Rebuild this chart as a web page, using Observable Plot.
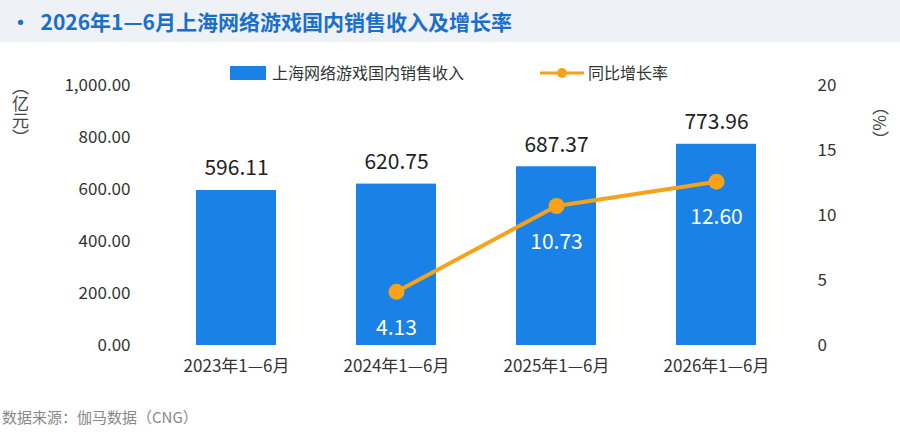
<!DOCTYPE html><html><head><meta charset="utf-8">
<script src="https://cdn.jsdelivr.net/npm/d3@7"></script>
<script src="https://cdn.jsdelivr.net/npm/@observablehq/plot@0.6"></script>
<style>
body{margin:0;width:900px;height:434px;background:#fff;font-family:"Noto Sans CJK SC","Noto Sans",sans-serif;position:relative;overflow:hidden}
#title{position:absolute;left:0;top:0;width:900px;height:42px;background:#eef1f5;color:#1a6fc9;font-weight:bold;font-size:21px;line-height:42px;padding-left:10px;box-sizing:border-box}
#chart{position:absolute;left:0;top:40px}
.lg{position:absolute;top:60px;font-size:16px;color:#333}
#cap{position:absolute;left:2px;top:406px;font-size:15px;color:#888}
.unit{position:absolute;font-size:17px;color:#444;writing-mode:vertical-rl}
</style></head><body>
<div id="title">•&nbsp;&nbsp;2026年1—6月上海网络游戏国内销售收入及增长率</div>
<div class="lg" style="left:230px"><span style="display:inline-block;width:36px;height:14px;background:#1a82e6;vertical-align:-1px;margin-right:6px"></span>上海网络游戏国内销售收入</div>
<div class="lg" style="left:540px"><svg width="44" height="14" style="vertical-align:-1px;margin-right:4px"><line x1="0" y1="7" x2="44" y2="7" stroke="#f7a21b" stroke-width="3"/><circle cx="22" cy="7" r="5" fill="#f7a21b"/></svg>同比增长率</div>
<div class="unit" style="left:8px;top:78px">（亿元）</div>
<div class="unit" style="left:868px;top:98px">（%）</div>
<div id="chart"></div>
<div id="cap">数据来源：伽马数据（CNG）</div>
<script>
const categories=["2023年1—6月","2024年1—6月","2025年1—6月","2026年1—6月"];
const revenue=[596.11,620.75,687.37,773.96];
const growth=[null,4.13,10.73,12.60];
const data=categories.map((c,i)=>({c,v:revenue[i],g:growth[i]}));
const gdata=data.filter(d=>d.g!=null);
const k=50;
const fmt=d3.format(",.2f");
const plot=Plot.plot({
  width:900,height:360,marginTop:45,marginBottom:55,marginLeft:155,marginRight:103,
  style:{fontSize:"17px",color:"#333",fontFamily:"Noto Sans CJK SC, Noto Sans, sans-serif"},
  x:{domain:categories,paddingInner:0.5,paddingOuter:0.25,label:null},
  y:{domain:[0,1000],label:null},
  marks:[
    Plot.axisX({tickSize:0,tickPadding:14,fontSize:17}),
    Plot.axisY({ticks:[0,200,400,600,800,1000],tickFormat:fmt,tickSize:0,tickPadding:25,label:null}),
    Plot.axisY({anchor:"right",ticks:[0,250,500,750,1000],tickFormat:d=>d/k,tickSize:0,tickPadding:20,label:null}),
    Plot.barY(data,{x:"c",y:"v",fill:"#1a82e6"}),
    Plot.text(data,{x:"c",y:"v",text:d=>d.v.toFixed(2),dy:-22,fontSize:21,fill:"#222"}),
    Plot.line(gdata,{x:"c",y:d=>d.g*k,stroke:"#f7a21b",strokeWidth:4}),
    Plot.dot(gdata,{x:"c",y:d=>d.g*k,r:8,fill:"#f7a21b"}),
    Plot.text(gdata,{x:"c",y:d=>d.g*k,text:d=>d.g.toFixed(2),dy:36,fontSize:21,fill:"#fff"})
  ]
});
document.getElementById("chart").appendChild(plot);
</script></body></html>
